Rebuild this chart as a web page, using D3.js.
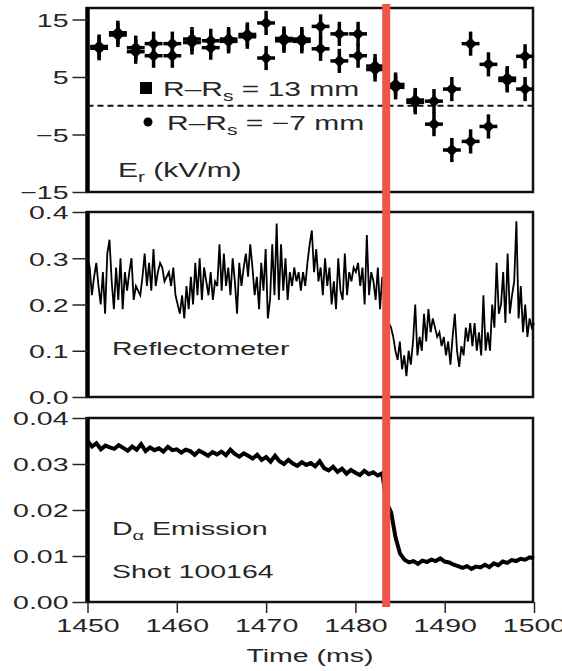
<!DOCTYPE html>
<html>
<head>
<meta charset="utf-8">
<script src="https://cdn.jsdelivr.net/npm/d3@7"></script>
<style>
  body { margin: 0; background: #fff; }
  svg { display: block; }
  text { font-family: "Liberation Sans", Arial, Helvetica, sans-serif; fill: #262626; }
</style>
</head>
<body>
<svg></svg>
<script>
// Data =======================================================================

// Er points, two radial positions (ms / kV/m)
const erTime = [1451.3, 1453.4, 1455.4, 1457.4, 1459.5, 1461.7, 1463.8, 1465.8, 1467.9, 1470.0, 1472.0, 1474.0,
  1476.1, 1478.2, 1480.3, 1482.2, 1484.5, 1486.7, 1488.8, 1490.8, 1492.9, 1494.9, 1497.0, 1499.0];
const er13mm = [10.3, 12.7, 10.1, 10.8, 10.8, 11.6, 11.3, 11.6, 12.4, 14.4, 11.7, 11.6,
  13.8, 12.5, 12.5, 6.9, 3.7, 1.0, 0.8, 2.9, 10.8, 7.2, 4.8, 8.6];
const erMinus7mm = [10.0, 12.3, 9.4, 8.7, 8.7, 11.0, 10.1, 11.2, 12.0, 8.3, 11.3, 11.2,
  9.9, 7.8, 8.7, 6.3, 3.2, 0.6, -3.2, -7.7, -6.2, -3.6, 4.4, 2.9];
const erTimeErr = 1.0, erValErr = 2.1;

// Reflectometer signal, sampled evenly from 1450 to 1500 ms
const refl = [
  0.30, 0.28, 0.22, 0.26, 0.29,
  0.24, 0.20, 0.27, 0.18, 0.31, 0.34, 0.25,
  0.19, 0.28, 0.21, 0.30, 0.19, 0.27,
  0.23, 0.27, 0.30, 0.21, 0.24, 0.23,
  0.22, 0.26, 0.31, 0.24, 0.29, 0.23,
  0.32, 0.24, 0.27, 0.29, 0.28, 0.25,
  0.26, 0.27, 0.24, 0.28, 0.22, 0.20,
  0.18, 0.22, 0.17, 0.24, 0.19, 0.26,
  0.20, 0.29, 0.22, 0.30, 0.21, 0.28,
  0.25, 0.22, 0.27, 0.21, 0.25, 0.24,
  0.33, 0.23, 0.31, 0.24, 0.28, 0.22,
  0.30, 0.25, 0.18, 0.29, 0.24, 0.28,
  0.31, 0.26, 0.33, 0.28, 0.22, 0.26,
  0.19, 0.29, 0.23, 0.32, 0.17, 0.21,
  0.33, 0.22, 0.375, 0.21, 0.33, 0.23, 0.30, 0.21,
  0.27, 0.24,
  0.28, 0.25, 0.27, 0.23, 0.27, 0.24,
  0.29, 0.33, 0.36, 0.27, 0.32, 0.25,
  0.28, 0.22, 0.30, 0.24, 0.28, 0.20,
  0.25, 0.19, 0.30, 0.23, 0.21, 0.31,
  0.22, 0.27, 0.25, 0.28, 0.27, 0.29,
  0.24, 0.28, 0.20, 0.35, 0.22, 0.27,
  0.25, 0.21, 0.28, 0.19,
  0.26, 0.22, 0.18,
  0.16, 0.15, 0.13,
  0.10, 0.08, 0.12, 0.06, 0.09, 0.045,
  0.10, 0.07, 0.12, 0.20, 0.09, 0.13,
  0.10, 0.18, 0.12, 0.19, 0.14, 0.17,
  0.15, 0.13, 0.14, 0.11, 0.13, 0.09,
  0.12, 0.07, 0.13, 0.18, 0.10, 0.065,
  0.11, 0.09, 0.15, 0.12, 0.16, 0.11,
  0.16, 0.10, 0.14, 0.09, 0.22, 0.10,
  0.14, 0.10, 0.20, 0.15, 0.29, 0.18,
  0.20, 0.27, 0.16, 0.31, 0.18, 0.22,
  0.25, 0.38, 0.17, 0.24, 0.14, 0.20,
  0.13, 0.17, 0.15, 0.16
];

// D-alpha emission, every 0.5 ms from 1450 to 1500
const dAlpha = [
  0.0350, 0.0338, 0.0345, 0.0332, 0.0340, 0.0336,
  0.0333, 0.0341, 0.0335, 0.0329, 0.0338,
  0.0331, 0.0343, 0.0328, 0.0336, 0.0330,
  0.0334, 0.0327, 0.0337, 0.0330, 0.0332,
  0.0325, 0.0331, 0.0328, 0.0320, 0.0329,
  0.0324, 0.0318, 0.0326, 0.0321, 0.0327,
  0.0319, 0.0331, 0.0322, 0.0316, 0.0323,
  0.0318, 0.0312, 0.0320, 0.0309, 0.0315,
  0.0305, 0.0318, 0.0306, 0.0300, 0.0309,
  0.0301, 0.0296, 0.0304, 0.0298, 0.0302,
  0.0295, 0.0306, 0.0291, 0.0286, 0.0294,
  0.0283, 0.0290, 0.0279, 0.0287, 0.0281,
  0.0276, 0.0285, 0.0278, 0.0282, 0.0275,
  0.0280,
  0.0215, 0.0195, 0.0140, 0.0105, 0.0092, 0.0086, 0.0089, 0.0083, 0.0090, 0.0087,
  0.0092, 0.0089, 0.0095, 0.0088, 0.0086, 0.0081, 0.0078, 0.0074, 0.0078, 0.0072,
  0.0077, 0.0075, 0.0081, 0.0076, 0.0084, 0.0080, 0.0088, 0.0085, 0.0091, 0.0089,
  0.0094, 0.0092, 0.0097, 0.0095
];

const timeTicks = [1450, 1460, 1470, 1480, 1490, 1500];
const erTicks = [15, 5, -5, -15];
const reflTicks = [0, 0.1, 0.2, 0.3, 0.4];
const daTicks = [0, 0.01, 0.02, 0.03, 0.04];
const transitionTime = 1483.45;

// Setup ======================================================================

const width = 562, height = 671;
const stretch = 1.5; // the print is stretched sideways

const svg = d3.select("svg").attr("width", width).attr("height", height);

const x = d3.scaleLinear().domain([1450, 1500]).range([87.5, 534]);
const yEr = d3.scaleLinear().domain([-15, 17]).range([192, 8]);
const yRefl = d3.scaleLinear().domain([0, 0.4]).range([397, 212]);
const yDa = d3.scaleLinear().domain([0, 0.04]).range([602, 418]);

function leftAxis(scale, ticks, fmt) {
  const g = svg.append("g")
    .attr("transform", `translate(${x.range()[0]},0)`)
    .call(d3.axisLeft(scale).tickValues(ticks).tickFormat(fmt).tickSize(15).tickPadding(4));
  g.select(".domain").remove();
  g.attr("font-size", 19).attr("font-family", null).attr("color", "#262626");
  g.selectAll(".tick line").attr("stroke-width", 1.5);
  g.selectAll(".tick text")
    .attr("x", 0)
    .attr("dy", "0.36em")
    .attr("transform", `translate(-19,0) scale(${stretch},1)`);
}

function frame(scale) {
  const [y0, y1] = scale.range();
  svg.append("rect")
    .attr("x", x.range()[0]).attr("y", y1)
    .attr("width", x.range()[1] - x.range()[0] - 1).attr("height", y0 - y1)
    .attr("fill", "none").attr("stroke", "#111").attr("stroke-width", 2.5);
  svg.append("line")
    .attr("x1", x.range()[0]).attr("x2", x.range()[0])
    .attr("y1", y1 - 1).attr("y2", y0 + 1)
    .attr("stroke", "#000").attr("stroke-width", 4.5);
}

function label(px, py, size) {
  return svg.append("text")
    .attr("transform", `translate(${px},${py}) scale(${stretch},1)`)
    .attr("font-size", size);
}

// Top panel: Er ==============================================================

frame(yEr);
leftAxis(yEr, erTicks, d3.format("d"));

svg.append("line")
  .attr("x1", x.range()[0]).attr("x2", x.range()[1])
  .attr("y1", yEr(0)).attr("y2", yEr(0))
  .attr("stroke", "#111").attr("stroke-width", 2).attr("stroke-dasharray", "6,4");

const erPoints = erTime.flatMap((t, i) => [
  { t, v: er13mm[i] },
  { t, v: erMinus7mm[i] }
]);

const pts = svg.append("g").selectAll("g")
  .data(erPoints)
  .enter()
  .append("g");

pts.append("line")
  .attr("x1", d => x(d.t)).attr("x2", d => x(d.t))
  .attr("y1", d => yEr(d.v + erValErr)).attr("y2", d => yEr(d.v - erValErr))
  .attr("stroke", "#000").attr("stroke-width", 3.5);
pts.append("line")
  .attr("x1", d => x(d.t - erTimeErr)).attr("x2", d => x(d.t + erTimeErr))
  .attr("y1", d => yEr(d.v)).attr("y2", d => yEr(d.v))
  .attr("stroke", "#000").attr("stroke-width", 3.5);
pts.append("path")
  .attr("d", d3.symbol(d3.symbolSquare, 78)())
  .attr("transform", d => `translate(${x(d.t)},${yEr(d.v)}) rotate(45)`)
  .attr("fill", "#000");

// legend
svg.append("rect").attr("x", 140).attr("y", 82).attr("width", 12).attr("height", 12).attr("fill", "#000");
svg.append("circle").attr("cx", 148).attr("cy", 122).attr("r", 4.5).attr("fill", "#000");

function subText(t, main, sub, rest) {
  t.append("tspan").text(main);
  t.append("tspan").attr("font-size", "0.7em").attr("dy", 5).text(sub);
  t.append("tspan").attr("dy", -5).text(rest);
}
subText(label(163, 96, 20), "R\u2013R", "s", " = 13 mm");
subText(label(167, 130, 20), "R\u2013R", "s", " = \u22127 mm");
subText(label(118, 177, 20), "E", "r", " (kV/m)");

// Middle panel: reflectometer ================================================

frame(yRefl);
leftAxis(yRefl, reflTicks, d3.format(".1f"));

const reflStep = 50 / (refl.length - 1);
svg.append("path")
  .datum(refl)
  .attr("fill", "none")
  .attr("stroke", "#000")
  .attr("stroke-width", 1.8)
  .attr("d", d3.line().x((d, i) => x(1450 + i * reflStep)).y(d => yRefl(d)));

label(112, 354.5, 19).text("Reflectometer");

// Bottom panel: D-alpha ======================================================

frame(yDa);
leftAxis(yDa, daTicks, d3.format(".2f"));

svg.append("path")
  .datum(dAlpha)
  .attr("fill", "none")
  .attr("stroke", "#000")
  .attr("stroke-width", 4)
  .attr("d", d3.line().x((d, i) => x(1450 + i * 0.5)).y(d => yDa(d)));

subText(label(112, 535, 19), "D", "\u03b1", " Emission");
label(112, 578, 19).text("Shot 100164");

// x axis
const xg = svg.append("g")
  .attr("transform", `translate(0,${yDa.range()[0]})`)
  .call(d3.axisBottom(x).tickValues(timeTicks).tickFormat(d3.format("d")).tickSize(11).tickPadding(5.5));
xg.select(".domain").remove();
xg.attr("font-size", 19).attr("font-family", null).attr("color", "#262626");
xg.selectAll(".tick line").attr("stroke-width", 1.5);
xg.selectAll(".tick text").attr("transform", `scale(${stretch},1)`);

label(310, 662, 19).attr("text-anchor", "middle").text("Time (ms)");

// Transition marker ==========================================================

svg.append("line")
  .attr("x1", x(transitionTime)).attr("x2", x(transitionTime))
  .attr("y1", 4).attr("y2", 607)
  .attr("stroke", "#ef5548").attr("stroke-width", 8);
</script>
</body>
</html>
